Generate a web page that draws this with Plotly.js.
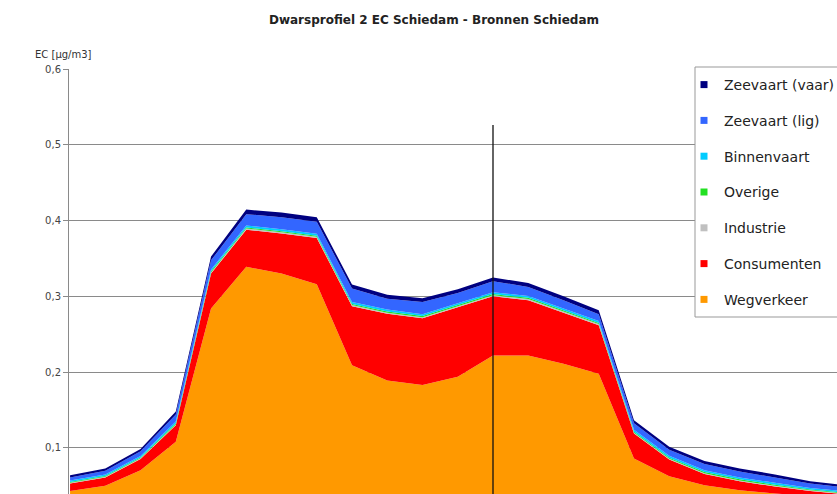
<!DOCTYPE html>
<html>
<head>
<meta charset="utf-8">
<script src="https://cdn.plot.ly/plotly-3.0.1.min.js"></script>
<style>html,body{margin:0;padding:0;background:#fff}#chart{width:837px;height:494px}</style>
</head>
<body>
<div id="chart"></div>
<script>
// Positions along the cross-profile (point index)
const positions = [0,1,2,3,4,5,6,7,8,9,10,11,12,13,14,15,16,17,18,19,20,21,22];
// EC contributions per source [µg/m3]
const wegverkeer    = [0.043,0.050,0.0705,0.108,0.284,0.339,0.330,0.316,0.209,0.189,0.183,0.194,0.222,0.222,0.211,0.198,0.086,0.0626,0.0507,0.044,0.040,0.036,0.032];
const consumenten   = [0.010,0.011,0.015,0.022,0.046,0.049,0.053,0.061,0.078,0.088,0.088,0.091,0.078,0.073,0.067,0.064,0.033,0.022,0.015,0.012,0.009,0.007,0.007];
const industrie     = [0.001,0.001,0.001,0.001,0.0015,0.0015,0.0015,0.0015,0.0015,0.0015,0.0015,0.0015,0.0015,0.0015,0.0015,0.0015,0.001,0.001,0.001,0.001,0.001,0.001,0.001];
const overige       = [0.001,0.001,0.001,0.0015,0.0015,0.0015,0.0015,0.0015,0.0015,0.0015,0.0015,0.0015,0.0015,0.0015,0.0015,0.0015,0.0015,0.0015,0.0015,0.0015,0.0015,0.001,0.001];
const binnenvaart   = [0.002,0.002,0.002,0.0025,0.0025,0.0025,0.0025,0.0025,0.0025,0.0025,0.0025,0.0025,0.0025,0.0025,0.0025,0.0025,0.0025,0.0025,0.0025,0.0025,0.0025,0.002,0.002];
const zeevaartLig   = [0.004,0.005,0.006,0.009,0.012,0.015,0.016,0.016,0.018,0.0145,0.016,0.014,0.0145,0.012,0.0115,0.009,0.0086,0.008,0.008,0.0078,0.007,0.006,0.005];
const zeevaartVaar  = [0.003,0.003,0.003,0.004,0.005,0.006,0.006,0.006,0.005,0.005,0.005,0.005,0.005,0.005,0.005,0.005,0.004,0.004,0.004,0.004,0.004,0.003,0.003];

const seriesNames  = ["Wegverkeer","Consumenten","Industrie","Overige","Binnenvaart","Zeevaart (lig)","Zeevaart (vaar)"];
const seriesValues = [wegverkeer, consumenten, industrie, overige, binnenvaart, zeevaartLig, zeevaartVaar];
const seriesColors = ["#ff9900","#ff0000","#c0c0c0","#22e022","#00ccff","#3366ff","#000080"];
const yTickVals = [0.1,0.2,0.3,0.4,0.5,0.6];
const yTickText = ["0,1","0,2","0,3","0,4","0,5","0,6"];
const markerPosition = 12;
const markerTop = 0.526;

const traces = [];
seriesNames.forEach((n,i)=>{
  traces.push({
    x: positions, y: seriesValues[i], name: n, type: 'scatter', mode: 'lines',
    stackgroup: 'one', line: {width: 0, color: seriesColors[i]}, fillcolor: seriesColors[i],
    showlegend: false, hoverinfo: 'skip'
  });
});
// legend entries (top to bottom)
for (let i = seriesNames.length-1; i >= 0; i--) {
  traces.push({
    x: [null], y: [null], name: seriesNames[i], type: 'scatter', mode: 'markers',
    marker: {symbol: 'square', size: 7, color: seriesColors[i]},
    legendgroup: 'g'+i, showlegend: true
  });
}

const layout = {
  width: 837, height: 494,
  margin: {l: 69, r: 0, t: 69, b: 0, autoexpand: false},
  paper_bgcolor: '#fff', plot_bgcolor: '#fff',
  font: {family: 'Liberation Sans, Arial, sans-serif', color: '#333'},
  title: {text: '<b>Dwarsprofiel 2 EC Schiedam - Bronnen Schiedam</b>', font: {size: 12, color: '#222', family: 'DejaVu Sans, sans-serif'},
          x: 434/837, xanchor: 'center', xref: 'container', y: 1-20/494, yanchor: 'middle', yref: 'container'},
  xaxis: {range: [-0.03, 21.76], showgrid: false, zeroline: false, showticklabels: false, ticks: '', showline: false, fixedrange: true},
  yaxis: {range: [0.0392, 0.6], tickvals: yTickVals, ticktext: yTickText, showgrid: true, gridcolor: '#8a8a8a', gridwidth: 1,
          zeroline: false, showline: true, linecolor: '#8a8a8a', linewidth: 1, ticks: 'outside', ticklen: 5, tickcolor: '#8a8a8a',
          tickfont: {size: 10, color: '#444', family: 'DejaVu Sans, sans-serif'}, fixedrange: true},
  showlegend: true,
  legend: {x: (684-69)/768, xanchor: 'left', y: 1.0, yanchor: 'top', bgcolor: 'rgba(0,0,0,0)', borderwidth: 0,
           font: {size: 14, color: '#222', family: 'DejaVu Sans, sans-serif'}, tracegroupgap: 14.6, traceorder: 'grouped'},
  shapes: [
    {type: 'line', xref: 'x', yref: 'y', x0: markerPosition, x1: markerPosition, y0: 0, y1: markerTop, line: {color: '#111', width: 1.3}, layer: 'above'},
    {type: 'rect', xref: 'paper', yref: 'paper', x0: (695-69)/768, x1: 1.05, y0: 1-(317-69)/425, y1: 1+2/425,
     line: {color: '#999', width: 1}, fillcolor: '#fff', layer: 'above'}
  ],
  annotations: [
    {text: 'EC [µg/m3]', xref: 'paper', yref: 'paper', x: (33-69)/768, y: 1+14/425, xanchor: 'left', yanchor: 'middle', showarrow: false,
     font: {size: 10, color: '#333', family: 'DejaVu Sans, sans-serif'}}
  ]
};

Plotly.newPlot('chart', traces, layout, {displayModeBar: false, staticPlot: true});
</script>
</body>
</html>
